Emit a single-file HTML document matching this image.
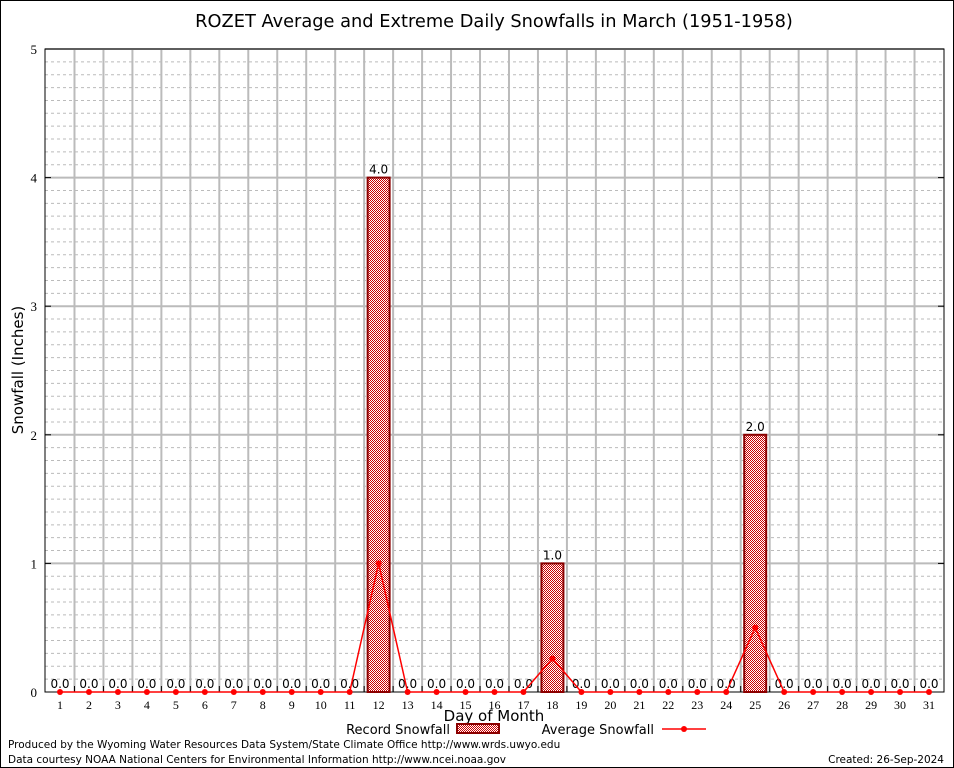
<!DOCTYPE html>
<html><head><meta charset="utf-8"><style>
body{margin:0;background:#fff}
svg{display:block;font-family:"DejaVu Sans","Liberation Sans",sans-serif}
</style></head><body>
<svg id="c" width="954" height="768">
<defs><pattern id="chk" width="2" height="2" patternUnits="userSpaceOnUse"><rect width="2" height="2" fill="#fff"/><rect width="1" height="1" fill="#c00"/><rect x="1" y="1" width="1" height="1" fill="#c00"/></pattern></defs>
<rect x="0.5" y="0.5" width="953" height="767" fill="#fff" stroke="#000"/>
<text x="494" y="27" font-size="17.8" text-anchor="middle">ROZET Average and Extreme Daily Snowfalls in March (1951-1958)</text>
<g id="grid"></g><g id="marks"></g>
<text transform="translate(23,370) rotate(-90)" font-size="15" text-anchor="middle">Snowfall (Inches)</text>
<text x="494" y="721" font-size="15" text-anchor="middle">Day of Month</text>
<g><text x="450" y="734" font-size="13" text-anchor="end">Record Snowfall</text><rect x="457" y="724" width="42" height="9" fill="url(#chk)" stroke="#8b0000" stroke-width="2"/></g>
<g><text x="654" y="734" font-size="13" text-anchor="end">Average Snowfall</text><line x1="662" y1="729" x2="706" y2="729" stroke="red" stroke-width="1.5"/><circle cx="684" cy="729" r="3" fill="red"/></g>
<text x="8" y="748" font-size="10.5">Produced by the Wyoming Water Resources Data System/State Climate Office http://www.wrds.uwyo.edu</text>
<text x="8" y="763" font-size="10.5">Data courtesy NOAA National Centers for Environmental Information http://www.ncei.noaa.gov</text>
<text x="944" y="763" font-size="10.5" text-anchor="end">Created:  26-Sep-2024</text>
</svg>
<script>
const days=[1,2,3,4,5,6,7,8,9,10,11,12,13,14,15,16,17,18,19,20,21,22,23,24,25,26,27,28,29,30,31];
const recordVals=[0,0,0,0,0,0,0,0,0,0,0,4,0,0,0,0,0,1,0,0,0,0,0,0,2,0,0,0,0,0,0];
const avgVals=[0,0,0,0,0,0,0,0,0,0,0,1.0,0,0,0,0,0,0.26,0,0,0,0,0,0,0.5,0,0,0,0,0,0];
const yTicks=[0,1,2,3,4,5];
const L=45,R=944,T=49,B=692;
const xs=d=>60+(d-1)*(929-60)/30;
const ys=v=>B-(v/5)*(B-T);
const NS="http://www.w3.org/2000/svg";
function mk(p,t,a){const e=document.createElementNS(NS,t);for(const k in a)e.setAttribute(k,a[k]);p.appendChild(e);return e;}
const g=document.getElementById('grid'),m=document.getElementById('marks');
for(let i=1;i<50;i++){if(i%10==0)continue;const y=ys(i/10);const l=mk(g,'line',{x1:L,x2:R,y1:y,y2:y,stroke:'#bbb','stroke-dasharray':'3,3'});

}
yTicks.forEach(v=>{const y=ys(v);
if(v>0){const l=mk(g,'line',{x1:L,x2:R,y1:y,y2:y,stroke:'#bbb','stroke-width':2});

}
mk(g,'line',{x1:L,x2:L+6,y1:y,y2:y,stroke:'#000'});mk(g,'line',{x1:R-6,x2:R,y1:y,y2:y,stroke:'#000'});
const t=mk(g,'text',{x:L-8,y:y+5,'font-size':13,'text-anchor':'end','font-family':'Liberation Serif,serif'});t.textContent=v;

});
days.forEach(d=>{if(d<31){const x=xs(d)+(xs(2)-xs(1))/2;const l=mk(g,'line',{x1:x,x2:x,y1:T,y2:B,stroke:'#bbb','stroke-width':2});


mk(g,'line',{x1:x,x2:x,y1:B-6,y2:B,stroke:'#000'});}
const t=mk(g,'text',{x:xs(d),y:B+17,'font-size':12,'text-anchor':'middle','font-family':'Liberation Serif,serif'});t.textContent=d;

});
mk(g,'rect',{x:L,y:T,width:R-L,height:B-T,fill:'none',stroke:'#000'});
days.forEach((d,i)=>{const v=recordVals[i];
if(v>0){const r=mk(m,'rect',{x:xs(d)-11,y:ys(v),width:22,height:B-ys(v),fill:'url(#chk)',stroke:'#8b0000','stroke-width':2});

}
const t=mk(m,'text',{x:xs(d),y:ys(v)-4,'font-size':12,'text-anchor':'middle'});t.textContent=v.toFixed(1);

});
const pts=days.map((d,i)=>xs(d)+','+ys(avgVals[i])).join(' ');
const pl=mk(m,'polyline',{points:pts,fill:'none',stroke:'red','stroke-width':1.5});


days.forEach((d,i)=>{const c=mk(m,'circle',{cx:xs(d),cy:ys(avgVals[i]),r:3,fill:'red'});

});
</script>
</body></html>
